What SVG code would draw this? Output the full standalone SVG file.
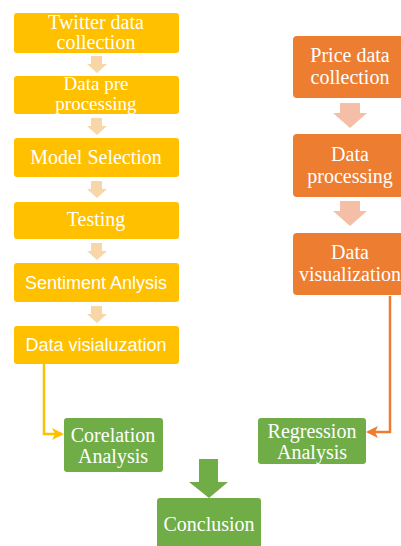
<svg xmlns="http://www.w3.org/2000/svg" width="401" height="546" viewBox="0 0 401 546">
<style>
.y{fill:#FFC000}
.o{fill:#ED7D31}
.g{fill:#70AD47}
.ya{fill:#F9D6A8}
.oa{fill:#F4BFA6}
text{fill:#fff;text-anchor:middle}
.s{font-family:"Liberation Serif","Times New Roman",serif;font-size:20px}
.t{font-size:19px}
.n{font-family:"Liberation Sans",Arial,sans-serif;font-size:18px}
</style>
<defs>
<marker id="ay" markerWidth="12" markerHeight="12" refX="10" refY="6" orient="auto" markerUnits="userSpaceOnUse"><path d="M0,0 L12,6 L0,12 L3,6 Z" fill="#FFC000"/></marker>
<marker id="ao" markerWidth="12" markerHeight="12" refX="10" refY="6" orient="auto" markerUnits="userSpaceOnUse"><path d="M0,0 L12,6 L0,12 L3,6 Z" fill="#ED7D31"/></marker>
</defs>
<g id="connectors">
<path class="ya" d="M91,56 h11 v8 h5 l-10,9 l-10,-9 h4 Z"/>
<path class="ya" d="M91,118 h11 v8 h5 l-10,9 l-10,-9 h4 Z"/>
<path class="ya" d="M91,181 h11 v8 h5 l-10,9 l-10,-9 h4 Z"/>
<path class="ya" d="M91,243 h11 v8 h5 l-10,9 l-10,-9 h4 Z"/>
<path class="ya" d="M91,306 h11 v8 h5 l-10,9 l-10,-9 h4 Z"/>
<path class="oa" d="M340,103 h20 v10 h7 l-17,15 l-17,-15 h7 Z"/>
<path class="oa" d="M340,201 h20 v10 h7 l-17,15 l-17,-15 h7 Z"/>
<path d="M44,364 V434 H62" fill="none" stroke="#FFC000" stroke-width="2.5" marker-end="url(#ay)"/>
<path d="M390,296 V432 H368" fill="none" stroke="#ED7D31" stroke-width="2.5" marker-end="url(#ao)"/>
<path class="g" d="M199,459 h19 v23 h10 l-19,16 l-20,-16 h10 Z"/>
</g>
<g id="twitter"><rect class="y" x="14" y="13" width="165" height="40" rx="3"/><text class="s" x="96" y="29">Twitter data</text><text class="s" x="96" y="49">collection</text></g>
<g id="prepro"><rect class="y" x="14" y="76" width="165" height="38" rx="3"/><text class="s t" x="96" y="90">Data pre</text><text class="s t" x="96" y="110">processing</text></g>
<g id="model"><rect class="y" x="14" y="138" width="165" height="39" rx="3"/><text class="s" x="96" y="164">Model Selection</text></g>
<g id="testing"><rect class="y" x="14" y="202" width="165" height="37" rx="3"/><text class="s" x="96" y="226">Testing</text></g>
<g id="sentiment"><rect class="y" x="14" y="263" width="165" height="39" rx="3"/><text class="n" x="96" y="289">Sentiment Anlysis</text></g>
<g id="datavis"><rect class="y" x="14" y="326" width="165" height="38" rx="3"/><text class="n" x="96" y="351">Data visialuzation</text></g>
<g id="price"><rect class="o" x="293" y="36" width="116" height="62" rx="4"/><text class="s" x="350" y="62">Price data</text><text class="s" x="350" y="84">collection</text></g>
<g id="proc"><rect class="o" x="293" y="134" width="116" height="63" rx="4"/><text class="s" x="350" y="161">Data</text><text class="s" x="350" y="183">processing</text></g>
<g id="vis"><rect class="o" x="293" y="233" width="116" height="62" rx="4"/><text class="s" x="350" y="259">Data</text><text class="s" x="350" y="281">visualization</text></g>
<g id="corel"><rect class="g" x="64" y="418" width="99" height="54" rx="3"/><text class="s" x="113" y="442">Corelation</text><text class="s" x="113" y="463">Analysis</text></g>
<g id="regr"><rect class="g" x="258" y="418" width="108" height="46" rx="3"/><text class="s" x="312" y="438">Regression</text><text class="s" x="312" y="459">Analysis</text></g>
<g id="concl"><rect class="g" x="157" y="498" width="104" height="52" rx="3"/><text class="s" x="209" y="531">Conclusion</text></g>
</svg>
